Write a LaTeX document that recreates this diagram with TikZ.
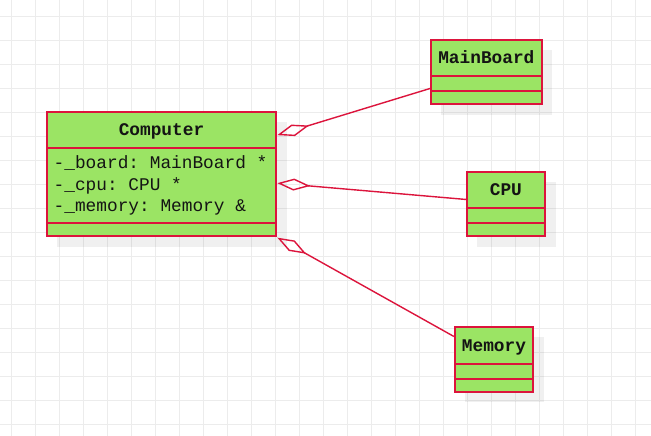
\documentclass[tikz,border=0pt]{standalone}
\usepackage{fontspec}
\setmonofont{Liberation Mono}
\usetikzlibrary{arrows.meta,calc}
\definecolor{gridc}{RGB}{236,236,236}
\definecolor{boxfill}{RGB}{155,228,100}
\definecolor{boxline}{RGB}{220,20,60}
\definecolor{textc}{RGB}{20,20,20}
\begin{document}
\begin{tikzpicture}[x=1pt,y=-1pt,
  classbox/.style={draw=boxline, fill=boxfill, line width=1.7pt, inner sep=0pt},
  shadowbox/.style={fill=black, fill opacity=0.06},
  divider/.style={draw=boxline, line width=1.7pt},
  titletext/.style={font=\ttfamily\bfseries\fontsize{17.8}{21}\selectfont, text=textc, inner sep=0pt, anchor=base},
  attrtext/.style={font=\ttfamily\fontsize{17.8}{21}\selectfont, text=textc, inner sep=0pt, anchor=base west},
  aggr/.style={draw=boxline, line width=1.4pt, line join=miter,
    {Diamond[open, length=33pt, width=12pt]}-}
]
\useasboundingbox (0,0) rectangle (651,436);
\fill[white] (0,0) rectangle (651,436);
\foreach \x in {11.3,35.3,...,651} \draw[gridc, line width=1pt] (\x,0) -- (\x,436);
\foreach \y in {16.3,40.3,...,436} \draw[gridc, line width=1pt] (0,\y) -- (651,\y);

% shadows
\fill[shadowbox] (57,122) rectangle (286.5,246.5);
\fill[shadowbox] (441,50) rectangle (552,114.5);
\fill[shadowbox] (476.7,181.7) rectangle (555.5,246.5);
\fill[shadowbox] (464.7,337.3) rectangle (543.5,402);

% Computer
\node[classbox, minimum width=229pt, minimum height=124pt] (computer) at (161.5,174) {};
\draw[divider] (47,147.7) -- (276,147.7);
\draw[divider] (47,223) -- (276,223);
\node[titletext] (computert) at (161.5,135.5) {Computer};
\node[attrtext] (attr1) at (53.5,168.5) {-\_board: MainBoard *};
\node[attrtext] (attr2) at (53.5,190) {-\_cpu: CPU *};
\node[attrtext] (attr3) at (53.5,211.5) {-\_memory: Memory \&};

% MainBoard
\node[classbox, minimum width=110.7pt, minimum height=64pt] (mainboard) at (486.35,72) {};
\draw[divider] (431,75.7) -- (541.7,75.7);
\draw[divider] (431,90.7) -- (541.7,90.7);
\node[titletext] (mainboardt) at (486.35,63.5) {MainBoard};

% CPU
\node[classbox, minimum width=78.3pt, minimum height=64.6pt] (cpu) at (505.85,204) {};
\draw[divider] (466.7,208) -- (545,208);
\draw[divider] (466.7,222.7) -- (545,222.7);
\node[titletext] (cput) at (505.85,195.3) {CPU};

% Memory
\node[classbox, minimum width=78.6pt, minimum height=64.7pt] (memory) at (494,359.65) {};
\draw[divider] (454.7,364) -- (533.3,364);
\draw[divider] (454.7,379) -- (533.3,379);
\node[titletext] (memoryt) at (494,351.5) {Memory};

% connector ends
\coordinate (c1) at ($(computer.north east)+(0.5,24)$);
\coordinate (c2) at ($(computer.north east)+(0.5,72)$);
\coordinate (c3) at ($(computer.south east)+(0.5,0.8)$);
\coordinate (e1) at ($(mainboard.north west)+(0,49.3)$);
\coordinate (e2) at ($(cpu.north west)+(0,28.6)$);
\coordinate (e3) at ($(memory.north west)+(0,10)$);

\draw[aggr] (c1) -- (e1);
\draw[aggr] (c2) -- (e2);
\draw[aggr] (c3) -- (e3);
\end{tikzpicture}
\end{document}
